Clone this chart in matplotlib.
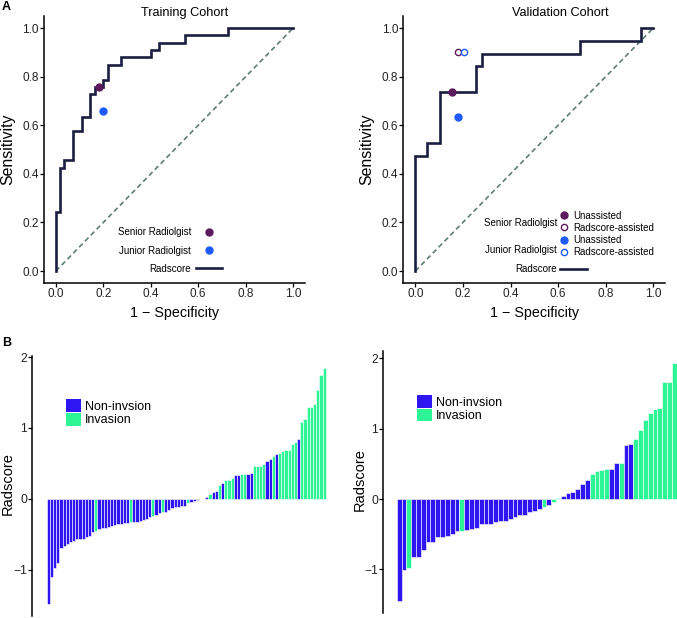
import numpy as np
import matplotlib
matplotlib.use('Agg')
import matplotlib.pyplot as plt
from matplotlib.lines import Line2D
from matplotlib.patches import Patch
from matplotlib.ticker import FormatStrFormatter

plt.rcParams['font.family'] = ['Liberation Sans', 'DejaVu Sans']

# ---------------- data ----------------
# ROC step vertices (1 - specificity, sensitivity)
train_fpr = [0, 0, 0.018, 0.036, 0.073, 0.109, 0.145, 0.164, 0.200, 0.218, 0.273, 0.400, 0.436, 0.545, 0.727, 1.0]
train_tpr = [0, 0.242, 0.424, 0.455, 0.576, 0.636, 0.727, 0.758, 0.788, 0.848, 0.879, 0.909, 0.939, 0.970, 1.0, 1.0]
val_fpr = [0, 0, 0.051, 0.103, 0.256, 0.282, 0.692, 0.949, 1.0]
val_tpr = [0, 0.474, 0.526, 0.737, 0.842, 0.895, 0.947, 1.0, 1.0]
diag = [0, 1]

# radiologist operating points
train_senior = [0.180, 0.758]
train_junior = [0.200, 0.657]
val_senior_unassisted = [0.154, 0.737]
val_senior_assisted = [0.179, 0.900]
val_junior_unassisted = [0.179, 0.632]
val_junior_assisted = [0.205, 0.900]

# waterfall radscores (sorted), label 1 = invasion
train_scores = [-1.48, -1.10, -0.97, -0.90, -0.69, -0.67, -0.63, -0.61, -0.59, -0.57,
                -0.57, -0.56, -0.53, -0.52, -0.46, -0.45, -0.42, -0.41, -0.41, -0.40,
                -0.38, -0.37, -0.36, -0.35, -0.34, -0.34, -0.33, -0.33, -0.32, -0.31,
                -0.30, -0.28, -0.26, -0.24, -0.22, -0.20, -0.19, -0.18, -0.15, -0.13,
                -0.11, -0.11, -0.10, -0.10, -0.06, -0.04, -0.03, -0.01, -0.005, 0.005,
                0.03, 0.07, 0.10, 0.11, 0.20, 0.23, 0.26, 0.27, 0.29, 0.34,
                0.34, 0.35, 0.35, 0.35, 0.36, 0.46, 0.47, 0.47, 0.49, 0.53,
                0.56, 0.61, 0.64, 0.65, 0.68, 0.69, 0.69, 0.77, 0.80, 0.84,
                1.08, 1.13, 1.29, 1.29, 1.34, 1.54, 1.75, 1.85]
train_labels = [0, 0, 0, 0, 0, 0, 0, 0, 0, 0,
                0, 0, 0, 0, 0, 1, 0, 0, 0, 0,
                0, 0, 0, 0, 0, 0, 1, 0, 0, 0,
                0, 0, 0, 1, 0, 0, 1, 0, 0, 0,
                0, 0, 0, 0, 1, 0, 0, 0, 1, 1,
                0, 1, 0, 0, 1, 0, 1, 1, 1, 0,
                0, 1, 1, 0, 0, 1, 1, 1, 1, 0,
                0, 1, 0, 1, 1, 1, 1, 1, 1, 0,
                1, 1, 1, 1, 1, 1, 1, 1]
val_scores = [-1.45, -1.01, -0.98, -0.83, -0.82, -0.72, -0.61, -0.61, -0.54, -0.54,
              -0.53, -0.50, -0.46, -0.45, -0.44, -0.43, -0.41, -0.36, -0.36, -0.35,
              -0.33, -0.31, -0.31, -0.29, -0.25, -0.22, -0.22, -0.19, -0.17, -0.14,
              -0.11, -0.09, -0.04, 0.02, 0.04, 0.08, 0.10, 0.15, 0.22, 0.27,
              0.35, 0.40, 0.42, 0.43, 0.43, 0.51, 0.52, 0.77, 0.78, 0.86,
              0.98, 1.12, 1.22, 1.28, 1.30, 1.66, 1.66, 1.94]
val_labels = [0, 0, 1, 0, 0, 0, 0, 0, 0, 0,
              0, 0, 0, 1, 0, 0, 0, 0, 0, 0,
              0, 0, 0, 0, 0, 0, 0, 0, 0, 0,
              1, 0, 1, 1, 0, 0, 0, 0, 0, 0,
              1, 1, 1, 1, 0, 0, 1, 0, 0, 1,
              1, 1, 1, 1, 1, 1, 1, 1]

# ---------------- styles ----------------
ROC_COL = '#1b1e40'
DIAG_COL = '#5f7d73'
SENIOR = '#5c1a5c'
JUNIOR = '#1e5bff'
NONINV = '#2d16f2'
INV = '#2df596'
TXT = '#222222'

W, H = 677, 618
fig = plt.figure(figsize=(W / 100, H / 100), dpi=100)


def px_axes(left, top, right, bottom):
    return fig.add_axes([left / W, 1 - bottom / H, (right - left) / W, (bottom - top) / H])


def style_axes(ax, bottom=True):
    for s in ['top', 'right']:
        ax.spines[s].set_visible(False)
    ax.spines['left'].set_linewidth(1.1)
    ax.spines['bottom'].set_linewidth(1.1)
    if not bottom:
        ax.spines['bottom'].set_visible(False)
        ax.set_xticks([])
    ax.tick_params(direction='out', length=2.6, width=0.9, pad=1.2, labelsize=8.5, labelcolor=TXT)


def roc_panel(ax, fpr, tpr, title, title_x):
    ax.plot(diag, diag, color=DIAG_COL, lw=1.2, dashes=(3, 2))
    ax.plot(fpr, tpr, color=ROC_COL, lw=1.9, drawstyle='steps-post', solid_joinstyle='miter')
    ax.set_xlim(-0.05, 1.05)
    ax.set_ylim(-0.05, 1.05)
    ticks = np.arange(0, 1.01, 0.2)
    ax.set_xticks(ticks)
    ax.set_yticks(ticks)
    ax.xaxis.set_major_formatter(FormatStrFormatter('%.1f'))
    ax.yaxis.set_major_formatter(FormatStrFormatter('%.1f'))
    style_axes(ax)
    ax.set_xlabel('1 \u2212 Specificity', fontsize=10.3, labelpad=4)
    ax.set_ylabel('Sensitivity', fontsize=11.4, labelpad=5)
    ax.text(title_x, 0.998, title, transform=ax.transAxes, ha='center', va='baseline', fontsize=9.2)


# ---------------- A: training ROC ----------------
ax1 = px_axes(44, 15.9, 305, 283.2)
roc_panel(ax1, train_fpr, train_tpr, 'Training Cohort', 0.538)
ax1.plot(train_senior[0], train_senior[1], 'o', color=SENIOR, ms=5, zorder=5)
ax1.plot(train_junior[0], train_junior[1], 'o', color=JUNIOR, ms=5, zorder=5)
h = [Line2D([], [], marker='o', ls='none', color=SENIOR, ms=5),
     Line2D([], [], marker='o', ls='none', color=JUNIOR, ms=5),
     Line2D([], [], color=ROC_COL, lw=1.9)]
ax1.legend(h, ['Senior Radiolgist', 'Junior Radiolgist', 'Radscore'], markerfirst=False,
           fontsize=7, handlelength=2.7, handletextpad=0.5, labelspacing=0.85,
           loc='lower right', bbox_to_anchor=(0.683, 0.035), borderpad=0, borderaxespad=0,
           frameon=False)

# ---------------- A: validation ROC ----------------
ax2 = px_axes(403.4, 15.9, 665.2, 283.2)
roc_panel(ax2, val_fpr, val_tpr, 'Validation Cohort', 0.599)
ax2.plot(val_senior_unassisted[0], val_senior_unassisted[1], 'o', color=SENIOR, ms=5, zorder=5)
ax2.plot(val_senior_assisted[0], val_senior_assisted[1], 'o', mfc='white', mec=SENIOR, mew=1, ms=4.5, zorder=5)
ax2.plot(val_junior_unassisted[0], val_junior_unassisted[1], 'o', color=JUNIOR, ms=5, zorder=5)
ax2.plot(val_junior_assisted[0], val_junior_assisted[1], 'o', mfc='white', mec=JUNIOR, mew=1, ms=4.5, zorder=5)
h = [Line2D([], [], marker='o', ls='none', color=SENIOR, ms=5),
     Line2D([], [], marker='o', ls='none', mfc='white', mec=SENIOR, mew=1, ms=4.5),
     Line2D([], [], marker='o', ls='none', color=JUNIOR, ms=5),
     Line2D([], [], marker='o', ls='none', mfc='white', mec=JUNIOR, mew=1, ms=4.5)]
leg = ax2.legend(h, ['Unassisted', 'Radscore-assisted', 'Unassisted', 'Radscore-assisted'],
                 fontsize=7, handlelength=0.8, handletextpad=0.5, labelspacing=0.22,
                 loc='upper left', bbox_to_anchor=(0.600, 0.271), borderpad=0, borderaxespad=0,
                 frameon=False)
ax2.add_artist(leg)
ax2.legend([Line2D([], [], color=ROC_COL, lw=1.9)], ['Radscore'], markerfirst=False,
           fontsize=7, handlelength=2.75, handletextpad=0.4, loc='center right',
           bbox_to_anchor=(0.7015, 0.0534), borderpad=0, borderaxespad=0, frameon=False)
ax2.text(0.587, 0.225, 'Senior Radiolgist', transform=ax2.transAxes, ha='right', va='center', fontsize=7)
ax2.text(0.587, 0.126, 'Junior Radiolgist', transform=ax2.transAxes, ha='right', va='center', fontsize=7)


# ---------------- B: waterfall plots ----------------
def waterfall(ax, scores, labels, xlim, ylim, leg_anchor, label_x):
    x = np.arange(len(scores))
    cols = [INV if l == 1 else NONINV for l in labels]
    ax.bar(x, scores, width=1, color=cols, edgecolor='white', linewidth=0.4)
    ax.set_xlim(*xlim)
    ax.set_ylim(*ylim)
    ax.set_yticks([-1, 0, 1, 2])
    style_axes(ax, bottom=False)
    ax.tick_params(labelsize=8.7)
    ax.set_ylabel('Radscore', fontsize=10.5)
    ax.yaxis.set_label_coords(label_x, 0.51)
    h = [Patch(facecolor=NONINV), Patch(facecolor=INV)]
    ax.legend(h, ['Non-invsion', 'Invasion'], fontsize=9, handlelength=1.2, handleheight=1.2,
              handletextpad=0.3, labelspacing=0, loc='upper left', bbox_to_anchor=leg_anchor,
              borderpad=0, borderaxespad=0, frameon=False)


ax3 = px_axes(32.3, 355.6, 330, 616)
waterfall(ax3, train_scores, train_labels, (-5.04, 88.86), (-1.65, 2.02), (0.113, 0.833), -0.058)

ax4 = px_axes(383.3, 350.7, 677, 613)
waterfall(ax4, val_scores, val_labels, (-3.27, 57.56), (-1.62, 2.11), (0.115, 0.831), -0.056)

fig.text(2 / W, 1 - 7.5 / H, 'A', fontsize=9, fontweight='bold', va='center', ha='left')
fig.text(2 / W, 1 - 343 / H, 'B', fontsize=9, fontweight='bold', va='center', ha='left')

fig.savefig('out.png', dpi=100)
